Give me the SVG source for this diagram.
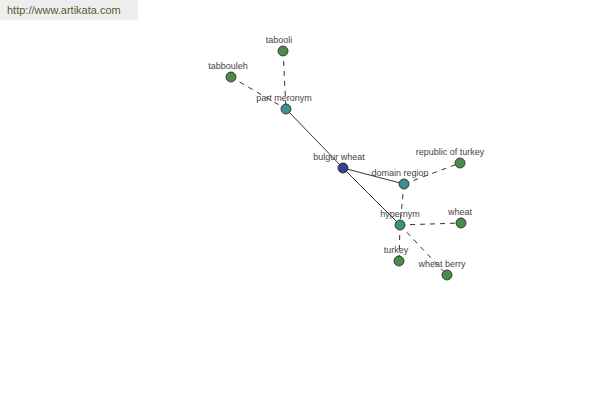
<svg xmlns="http://www.w3.org/2000/svg" width="600" height="400" viewBox="0 0 600 400">
<style>
.n{stroke:#222;stroke-width:0.8}
.leaf{fill:#4a8c4a}
.rel{fill:#3f8f8f}
.root{fill:#3b3f8f}
.e{stroke:#000;stroke-width:0.8;fill:none}
.d{stroke-dasharray:5,5}
text{font-family:"Liberation Sans",Arial,sans-serif;font-size:9px;fill:#444;text-anchor:middle}
</style>
<rect x="0" y="0" width="138" height="20" fill="#eeeeee"/>
<text x="7" y="14" style="text-anchor:start;font-size:11px;fill:#4f5f2f">http://www.artikata.com</text>
<g id="edges">
<line class="e" x1="286" y1="109" x2="343" y2="168"/>
<line class="e" x1="343" y1="168" x2="404" y2="184"/>
<line class="e" x1="343" y1="168" x2="400" y2="225"/>
<line class="e d" x1="283" y1="51" x2="286" y2="109"/>
<line class="e d" x1="231" y1="77" x2="286" y2="109"/>
<line class="e d" x1="404" y1="184" x2="460" y2="163"/>
<line class="e d" x1="404" y1="184" x2="400" y2="225"/>
<line class="e d" x1="400" y1="225" x2="461" y2="223"/>
<line class="e d" x1="400" y1="225" x2="399" y2="261"/>
<line class="e d" x1="400" y1="225" x2="447" y2="275"/>
</g>
<g id="tabooli"><circle class="n leaf" cx="283" cy="51" r="5"/><text x="279" y="43">tabooli</text></g>
<g id="tabbouleh"><circle class="n leaf" cx="231" cy="77" r="5"/><text x="228" y="69">tabbouleh</text></g>
<g id="part-meronym"><circle class="n rel" cx="286" cy="109" r="5"/><text x="284" y="101">part meronym</text></g>
<g id="bulgur-wheat"><circle class="n root" cx="343" cy="168" r="5"/><text x="339" y="160">bulgur wheat</text></g>
<g id="domain-region"><circle class="n rel" cx="404" cy="184" r="5"/><text x="400" y="176">domain region</text></g>
<g id="republic-of-turkey"><circle class="n leaf" cx="460" cy="163" r="5"/><text x="450" y="155">republic of turkey</text></g>
<g id="hypernym"><circle class="n rel" cx="400" cy="225" r="5"/><text x="400" y="217">hypernym</text></g>
<g id="wheat"><circle class="n leaf" cx="461" cy="223" r="5"/><text x="460" y="215">wheat</text></g>
<g id="turkey"><circle class="n leaf" cx="399" cy="261" r="5"/><text x="396" y="253">turkey</text></g>
<g id="wheat-berry"><circle class="n leaf" cx="447" cy="275" r="5"/><text x="442" y="267">wheat berry</text></g>
</svg>
